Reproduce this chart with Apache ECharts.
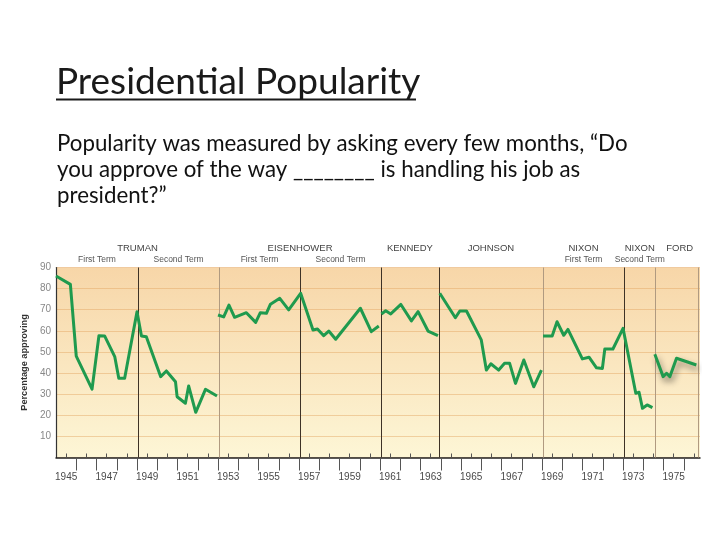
<!DOCTYPE html>
<html><head><meta charset="utf-8">
<script src="https://cdn.jsdelivr.net/npm/echarts@6/dist/echarts.min.js"></script>
<style>html,body{margin:0;padding:0;background:#fff}#c{width:720px;height:540px}</style>
</head><body><div id="c"></div>
<script>
// ---- text ----
const titleText = 'Presidential Popularity';
const bodyLines = [
  'Popularity was measured by asking every few months, \u201cDo',
  'you approve of the way ________ is handling his job as',
  'president?\u201d'
];
const yAxisName = 'Percentage approving';

// ---- axes ----
const yTickValues = [0, 10, 20, 30, 40, 50, 60, 70, 80, 90];
const xLabelYears = [1945, 1947, 1949, 1951, 1953, 1955, 1957, 1959, 1961, 1963, 1965, 1967, 1969, 1971, 1973, 1975];
const yearBoundaries = [1946,1947,1948,1949,1950,1951,1952,1953,1954,1955,1956,1957,1958,1959,1960,1961,1962,1963,1964,1965,1966,1967,1968,1969,1970,1971,1972,1973,1974,1975,1976];
const midYears = [1945.5,1946.5,1947.5,1948.5,1949.5,1950.5,1951.5,1952.5,1953.5,1954.5,1955.5,1956.5,1957.5,1958.5,1959.5,1960.5,1961.5,1962.5,1963.5,1964.5,1965.5,1966.5,1967.5,1968.5,1969.5,1970.5,1971.5,1972.5,1973.5,1974.5,1975.5,1976.5];

// ---- presidents / terms ----
const presNames = ['TRUMAN', 'EISENHOWER', 'KENNEDY', 'JOHNSON', 'NIXON', 'NIXON', 'FORD'];
const presSpans = [[1945, 1953.05], [1953.05, 1961.05], [1961.05, 1963.9], [1963.9, 1969.05], [1969.05, 1973.05], [1973.05, 1974.6], [1974.6, 1977]];
const termNames = ['First Term', 'Second Term', 'First Term', 'Second Term', 'First Term', 'Second Term'];
const termSpans = [[1945, 1949.05], [1949.05, 1953.05], [1953.05, 1957.05], [1957.05, 1961.05], [1969.05, 1973.05], [1973.05, 1974.6]];
const dividersDark = [1949.05, 1957.05, 1961.05, 1963.9, 1973.05];
const dividersLight = [1953.05, 1969.05, 1974.6, 1976.7];

// ---- approval data [year, percent] ----
const truman = [[1945.0,86],[1945.71,82],[1946.0,48],[1946.78,32.4],[1947.12,57.7],[1947.4,57.6],[1947.9,47.8],[1948.1,37.5],[1948.39,37.5],[1949.0,69],[1949.22,57.6],[1949.46,57.2],[1950.17,38.3],[1950.45,41],[1950.9,35.9],[1950.98,28.8],[1951.39,25.7],[1951.55,33.9],[1951.9,21.4],[1952.38,32.3],[1952.95,29.1]];
const eisenhower = [[1953.0,67.5],[1953.28,66.6],[1953.54,72.2],[1953.82,66.4],[1954.4,68.6],[1954.86,64.0],[1955.09,68.6],[1955.39,68.3],[1955.59,72.6],[1956.05,75.4],[1956.49,69.9],[1957.08,77.8],[1957.69,60.4],[1957.91,60.9],[1958.22,57.7],[1958.47,59.9],[1958.81,56.0],[1960.03,70.7],[1960.57,59.6],[1960.94,62.3]];
const kennedy = [[1961.07,68.0],[1961.28,69.5],[1961.53,68.0],[1962.03,72.5],[1962.55,64.7],[1962.88,69.1],[1963.37,59.9],[1963.86,57.7]];
const johnson = [[1963.95,77.8],[1964.72,66.2],[1964.94,69.4],[1965.27,69.4],[1966.0,55.7],[1966.25,41.4],[1966.47,44.4],[1966.86,41.4],[1967.15,44.6],[1967.4,44.6],[1967.69,35.1],[1968.1,46.2],[1968.59,33.5],[1968.97,41.4]];
const nixon = [[1969.05,57.6],[1969.5,57.6],[1969.74,64.3],[1970.07,57.9],[1970.28,60.7],[1970.99,46.7],[1971.32,47.5],[1971.69,42.5],[1971.98,42.2],[1972.1,51.4],[1972.5,51.4],[1973.0,61.2],[1973.63,30.4],[1973.79,30.9],[1973.96,23.3],[1974.19,24.9],[1974.45,23.6]];
const ford = [[1974.57,48.9],[1974.98,38.3],[1975.15,39.9],[1975.31,38.3],[1975.64,47.0],[1976.62,43.8]];

const segments = [truman, eisenhower, kennedy, johnson, nixon, ford];

const LINE_COLOR = '#1f9a4e';
const chart = echarts.init(document.getElementById('c'), null, {renderer: 'canvas'});

const gridBox = {left: 56, right: 20, top: 267.5, bottom: 82.5};
const xMin = 1945, xMax = 1976.8;

const series = segments.map((seg, i) => {
  const s = {
    type: 'line', xAxisIndex: 0, yAxisIndex: 0, data: seg,
    symbol: 'none', z: 5, silent: true,
    lineStyle: {color: LINE_COLOR, width: 3, join: 'round'}
  };
  if (seg === ford) {
    s.lineStyle.shadowColor = 'rgba(0,0,0,0.45)';
    s.lineStyle.shadowBlur = 6;
    s.lineStyle.shadowOffsetX = 2;
    s.lineStyle.shadowOffsetY = 4;
  }
  return s;
});
series[0].markLine = {
  silent: true, symbol: 'none', label: {show: false}, animation: false,
  data: dividersDark.map(v => ({xAxis: v, lineStyle: {color: '#3e3226', width: 1, type: 'solid'}}))
    .concat(dividersLight.map(v => ({xAxis: v, lineStyle: {color: '#b09a80', width: 1, type: 'solid'}})))
};

const labelFont = "'Liberation Sans', Arial, sans-serif";

chart.setOption({
  animation: false,
  grid: [
    Object.assign({show: true, borderWidth: 0, backgroundColor: {
      type: 'linear', x: 0, y: 0, x2: 0, y2: 1,
      colorStops: [{offset: 0, color: '#f7d6a8'}, {offset: 1, color: '#fdf6d6'}]
    }}, gridBox),
    Object.assign({show: false}, gridBox)
  ],
  xAxis: [
    {
      type: 'value', gridIndex: 0, min: xMin, max: xMax, position: 'bottom',
      axisLine: {show: true, lineStyle: {color: '#222', width: 1.5}},
      axisTick: {show: true, inside: false, length: 13, customValues: yearBoundaries, lineStyle: {color: '#555'}},
      axisLabel: {show: true, customValues: xLabelYears.map(y => y + 0.5), formatter: v => String(Math.floor(v)),
        margin: 15, color: '#4a4a4a', fontSize: 10, fontFamily: labelFont},
      splitLine: {show: false}
    },
    {
      type: 'value', gridIndex: 1, min: xMin, max: xMax, position: 'bottom',
      axisLine: {show: false},
      axisTick: {show: true, inside: true, length: 4, customValues: midYears, lineStyle: {color: '#555'}},
      axisLabel: {show: false}, splitLine: {show: false}
    }
  ],
  yAxis: [
    {
      type: 'value', gridIndex: 0, min: 0, max: 90, interval: 10,
      axisLine: {show: true, lineStyle: {color: '#333', width: 1.2}},
      axisTick: {show: false},
      axisLabel: {color: '#888', fontSize: 10, margin: 5, fontFamily: labelFont,
        customValues: yTickValues, formatter: v => (v === 0 ? '' : String(v))},
      splitLine: {show: true, lineStyle: {color: 'rgba(226,164,96,0.45)', width: 1}},
      name: yAxisName, nameLocation: 'middle', nameGap: 24,
      nameTextStyle: {fontWeight: 'bold', fontSize: 9.2, color: '#333',
        fontFamily: "'Liberation Sans Narrow', 'Liberation Sans', Arial, sans-serif"}
    },
    {type: 'value', gridIndex: 1, min: 0, max: 90, show: false}
  ],
  series: series
});

// header labels placed through the x scale
const graphics = [];
presNames.forEach((n, i) => {
  const c = (presSpans[i][0] + presSpans[i][1]) / 2;
  const px = chart.convertToPixel({xAxisIndex: 0}, c);
  graphics.push({type: 'text', silent: true, style: {text: n, x: px, y: 248, align: 'center', verticalAlign: 'middle',
    fontSize: 9.5, fontFamily: labelFont, fill: '#444'}});
});
termNames.forEach((n, i) => {
  const c = (termSpans[i][0] + termSpans[i][1]) / 2;
  const px = chart.convertToPixel({xAxisIndex: 0}, c);
  graphics.push({type: 'text', silent: true, style: {text: n, x: px, y: 259.5, align: 'center', verticalAlign: 'middle',
    fontSize: 8.5, fontFamily: labelFont, fill: '#555'}});
});
// title + body
graphics.push({type: 'text', silent: true, style: {text: titleText, x: 56, y: 82, verticalAlign: 'middle',
  fontSize: 37, fontFamily: 'Lato, sans-serif', fill: '#1a1a1a'}});
graphics.push({type: 'line', silent: true, shape: {x1: 56, y1: 99.5, x2: 416, y2: 99.5}, style: {stroke: '#1a1a1a', lineWidth: 2}});
bodyLines.forEach((t, i) => {
  graphics.push({type: 'text', silent: true, style: {text: t, x: 57, y: 144 + i * 26, verticalAlign: 'middle',
    fontSize: 22.3, fontFamily: 'Lato, sans-serif', fill: '#111'}});
});
chart.setOption({graphic: graphics});
</script>
</body></html>
